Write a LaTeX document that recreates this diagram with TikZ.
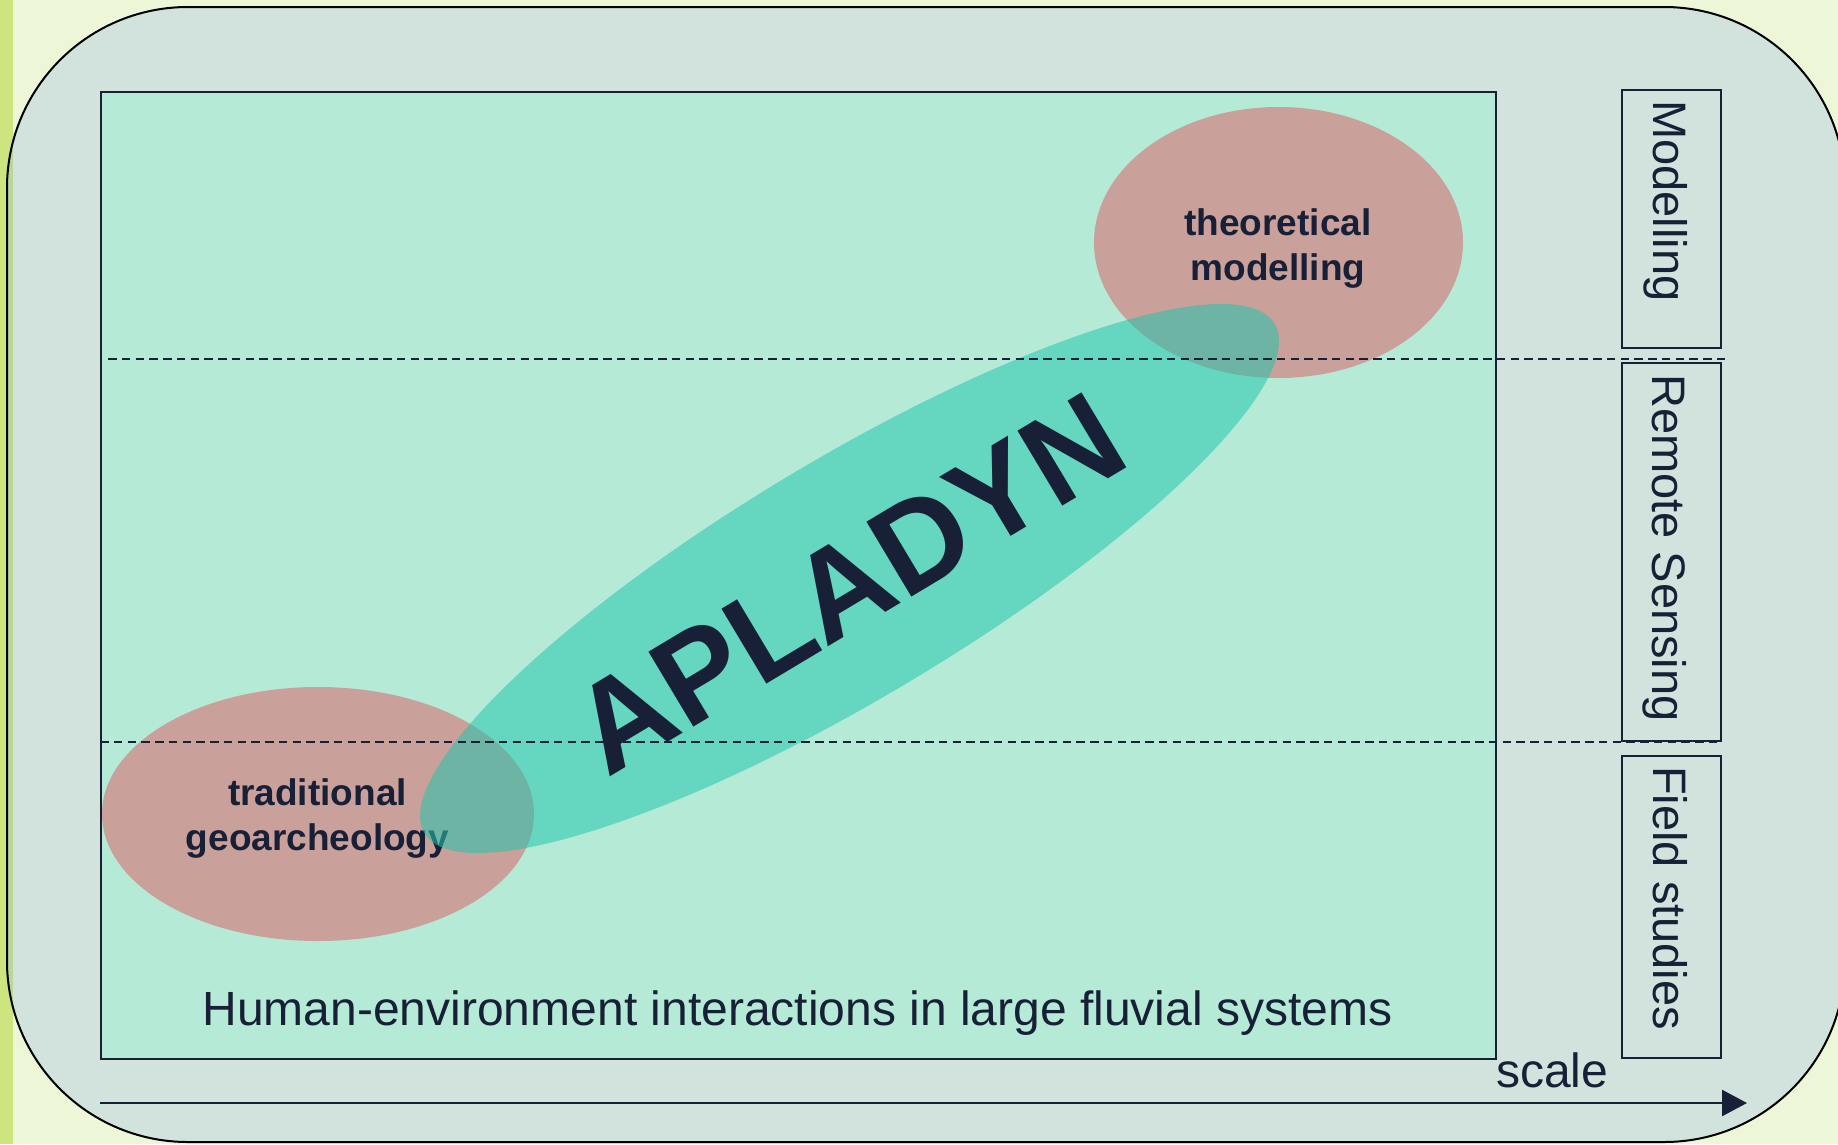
\documentclass[tikz,border=0pt]{standalone}
\usepackage{fontspec}
\setmainfont{Liberation Sans}
\usetikzlibrary{shapes.geometric,arrows.meta}
\definecolor{bgyellow}{RGB}{237,246,214}
\definecolor{stripgreen}{RGB}{205,229,126}
\definecolor{panelblue}{RGB}{133,174,242}
\definecolor{innergreen}{RGB}{181,234,214}
\definecolor{navy}{RGB}{23,32,54}
\definecolor{pinkfill}{RGB}{201,160,154}
\definecolor{tealfill}{RGB}{37,198,174}
\tikzset{
  pinkell/.style={ellipse, fill=pinkfill, inner sep=0pt},
  pinktext/.style={align=center, anchor=base, inner sep=0pt, text=navy,
    font=\fontsize{37}{45}\selectfont\bfseries},
  dashline/.style={draw=navy, line width=2pt, dash pattern=on 8.5pt off 5.25pt},
  labelbox/.style={draw=navy, line width=2pt, inner sep=0pt, minimum width=99pt},
  vlabel/.style={rotate=-90, anchor=base west, inner sep=0pt, text=navy,
    font=\fontsize{47}{50}\selectfont},
  plaintext/.style={inner sep=0pt, text=navy, font=\fontsize{48}{52}\selectfont}
}
\begin{document}
\begin{tikzpicture}[x=1pt,y=-1pt]
\useasboundingbox (0,0) rectangle (1838,1144);
\begin{scope}
  \clip (0,0) rectangle (1838,1144);
  \fill[bgyellow] (0,0) rectangle (1838,1144);
  \fill[stripgreen] (0,0) rectangle (13,1144);
  \draw[line width=2pt, draw=black, fill=panelblue, fill opacity=0.25, rounded corners=181pt]
    (7,7) rectangle (1845,1142);
\end{scope}

% main frame
\node[draw=navy, line width=2pt, fill=innergreen, minimum width=1395pt, minimum height=967pt,
  inner sep=0pt, anchor=north west] (frame) at (100,91) {};

% pink ellipses
\node[pinkell, minimum width=369pt, minimum height=271pt] (theo) at (1278.5,242.5) {};
\node[pinkell, minimum width=432pt, minimum height=254pt] (trad) at (318,814) {};
\node[pinktext] (theoL) at (1278,280) {theoretical\\modelling};
\node[pinktext] (tradL) at (317.5,850) {traditional\\geoarcheology};

% APLADYN ellipse
\node[ellipse, fill=tealfill, fill opacity=0.55, inner sep=0pt, minimum width=991pt,
  minimum height=238.6pt, rotate=30.93] (apl) at (849.5,578.5) {};
\node[rotate=30.93, anchor=base, inner sep=0pt, text=navy,
  font=\fontsize{127}{127}\selectfont\bfseries] (aplT) at (871,621) {APLADYN};

% dashed separators
\coordinate (d1a) at (108,359);
\coordinate (d1b) at (1727,359);
\coordinate (d2a) at (100,742);
\coordinate (d2b) at (1721,742);
\draw[dashline] (d1a) -- (d1b);
\draw[dashline] (d2a) -- (d2b);

% label boxes
\node[labelbox, minimum height=258pt] (mbox) at (1671.5,219) {};
\node[labelbox, minimum height=378pt] (rbox) at (1671.5,552) {};
\node[labelbox, minimum height=302pt] (fbox) at (1671.5,907) {};
\node[vlabel] (mtxt) at (1653,100) {Modelling};
\node[vlabel] (rtxt) at (1652,374) {Remote Sensing};
\node[vlabel] (ftxt) at (1653,766) {Field studies};

% bottom text
\node[plaintext, anchor=base] (human) at (797.5,1025) {Human-environment interactions in large fluvial systems};

% scale axis
\node[plaintext, anchor=base west] (scaleT) at (1496,1087) {scale};
\coordinate (ax0) at (100,1103);
\coordinate (ax1) at (1747,1103);
\draw[navy, line width=2.5pt, -{Triangle[length=25pt,width=26pt]}] (ax0) -- (ax1);
\end{tikzpicture}
\end{document}
